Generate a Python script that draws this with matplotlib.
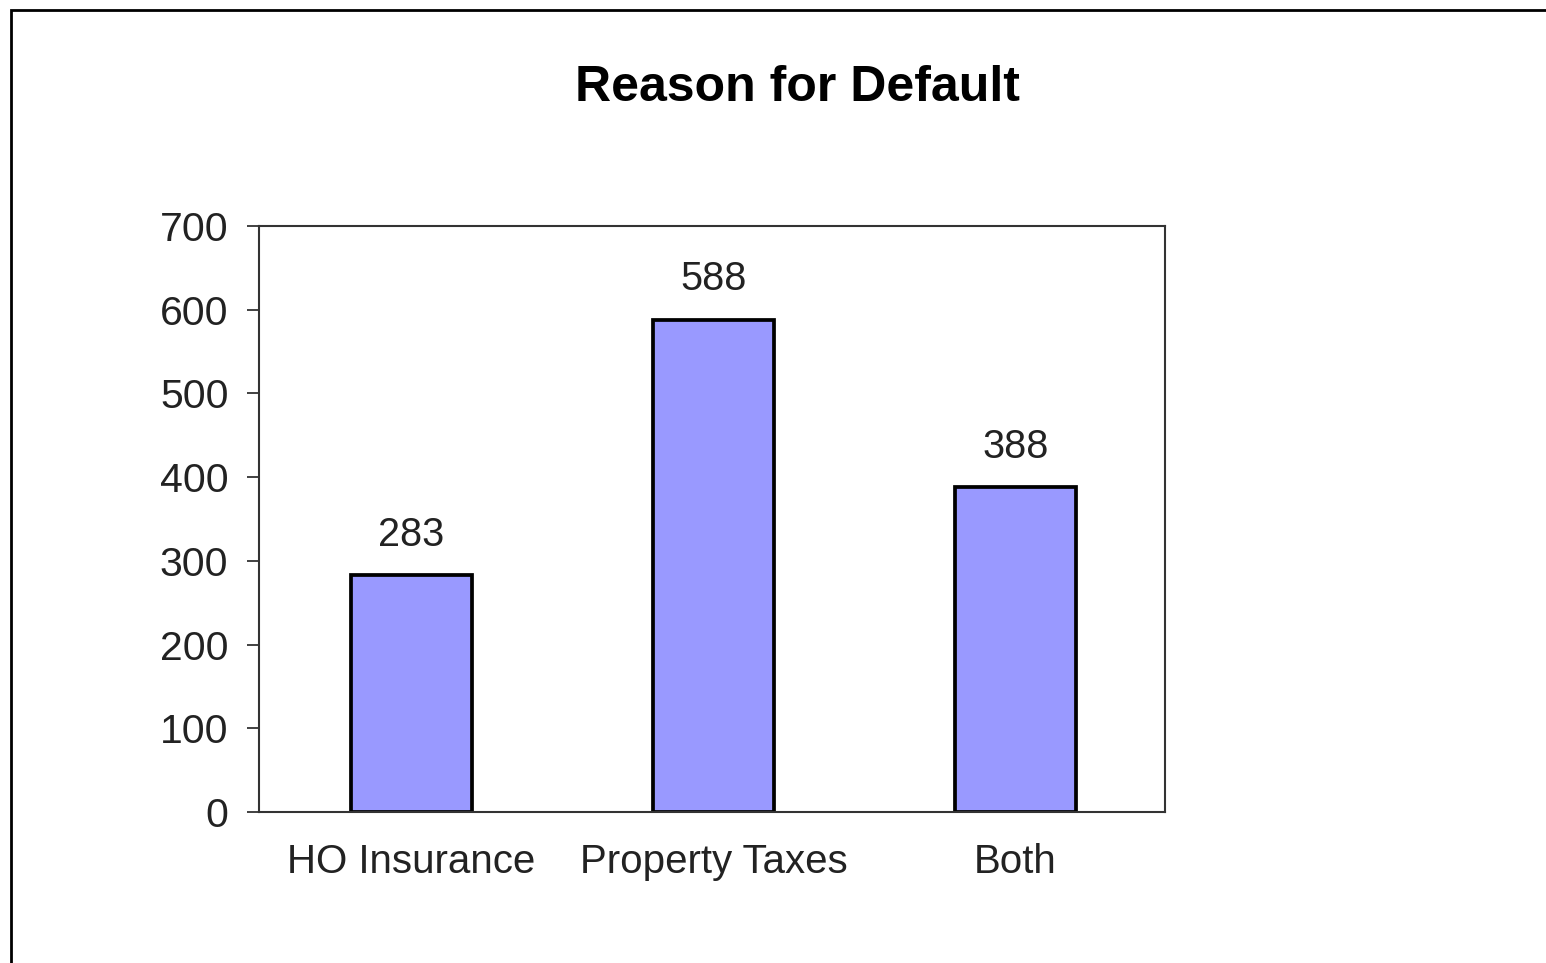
import matplotlib.pyplot as plt
from matplotlib.patches import Rectangle

categories = ["HO Insurance", "Property Taxes", "Both"]
counts = [283, 588, 388]
title = "Reason for Default"

plt.rcParams["font.family"] = ["Liberation Sans", "DejaVu Sans"]

fig = plt.figure(figsize=(15.46, 9.63), dpi=100)
ax = fig.add_axes([259 / 1546, 1 - 812 / 963, (1165 - 259) / 1546, (812 - 226) / 963])

x = range(len(categories))
bars = ax.bar(x, counts, width=0.4, color="#9999ff", edgecolor="black", linewidth=2.7)

for b, v in zip(bars, counts):
    ax.annotate(str(v), (b.get_x() + b.get_width() / 2, v), xytext=(0, 29),
                textcoords="offset points", ha="center", va="center",
                fontsize=28.5, color="#222222")

ax.set_xlim(-0.505, len(categories) - 0.505)
ax.set_ylim(0, 700)
ax.set_yticks(range(0, 701, 100))
ax.set_xticks(list(x))
ax.set_xticklabels(categories)
ax.tick_params(axis="x", length=0, pad=22, labelsize=29, labelcolor="#222222")
ax.tick_params(axis="y", length=9, width=1.3, pad=13, labelsize=29.5,
               labelcolor="#222222", color="#333333")
for s in ax.spines.values():
    s.set_linewidth(1.5)
    s.set_color("#333333")

fig.text(797 / 1546, 1 - 88 / 963, title, ha="center", va="center",
         fontsize=36, fontweight="bold")

# outer frame (left and top edges visible)
fig.patches.append(Rectangle((11 / 1546, -0.1), 1.2, 1 - 10 / 963 + 0.1,
                             transform=fig.transFigure, fill=False,
                             edgecolor="black", linewidth=2))

fig.savefig("out.png", dpi=100)
